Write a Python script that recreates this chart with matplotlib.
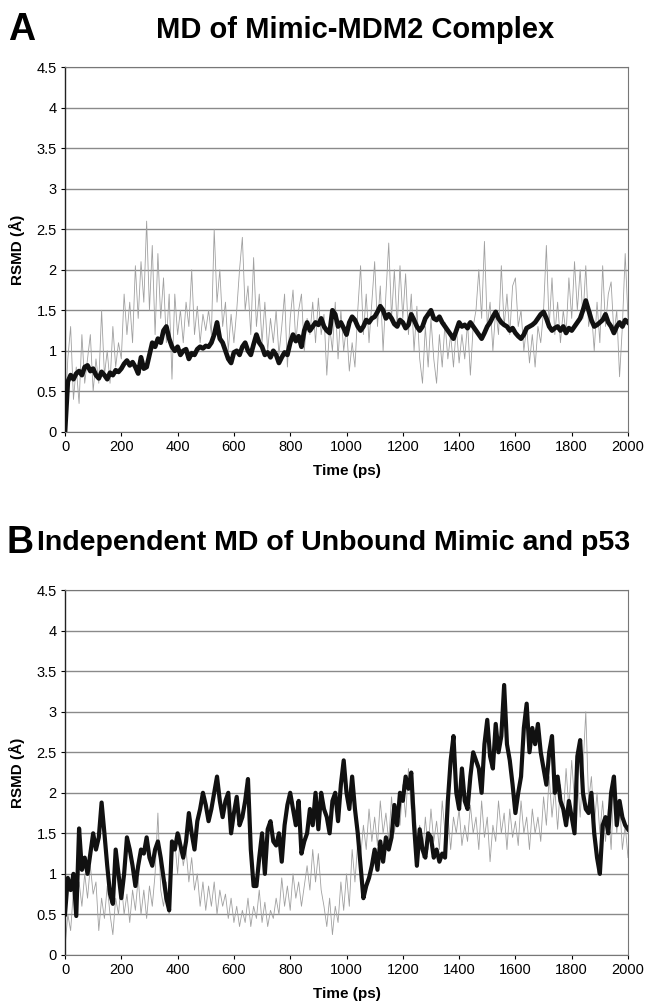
import numpy as np
import matplotlib
matplotlib.use("Agg")
import matplotlib.pyplot as plt

plt.rcParams['font.family'] = ['Liberation Sans', 'DejaVu Sans']

# time axis, 10 ps steps
time_ps = list(range(0, 2001, 10))

# Panel A: mimic-MDM2 complex
a_gray = [
    0.2, 0.9, 1.3, 0.4, 0.8, 0.35, 1.2, 0.6, 0.9, 1.2,
    0.5, 0.9, 0.6, 1.5, 0.7, 1.0, 0.6, 1.3, 0.8, 1.1,
    0.9, 1.7, 1.2, 1.6, 1.1, 2.05, 1.4, 2.1, 1.6, 2.6,
    1.5, 2.3, 1.2, 2.2, 1.4, 1.9, 1.1, 1.7, 0.65, 1.7,
    1.2, 1.5, 1.1, 1.6, 1.3, 2.0, 1.2, 1.55, 1.1, 1.45,
    1.25, 1.5, 1.2, 2.5, 1.6, 2.0, 1.3, 1.6, 1.0, 1.45,
    1.1, 1.5, 2.0, 2.4, 1.5, 1.8, 1.2, 2.15, 1.3, 1.7,
    1.1, 1.6, 1.0, 1.4, 1.1, 1.5, 0.95, 1.3, 1.7, 0.8,
    1.4, 1.75, 1.1, 1.5, 1.7, 1.0, 1.4, 1.2, 1.6, 1.1,
    1.65, 1.2, 1.45, 0.7, 1.3, 1.0, 1.6, 0.9, 1.5, 1.0,
    1.3, 0.75, 1.1, 0.8, 1.5, 2.05, 1.2, 1.7, 1.1, 1.6,
    2.1, 1.3, 1.8, 1.0, 1.7, 2.33, 1.4, 2.0, 1.3, 2.05,
    1.4, 1.95, 1.2, 1.7, 1.0, 1.55, 0.9, 0.6, 1.3, 0.8,
    1.4, 0.9, 0.6, 1.2, 0.8, 1.35, 0.9, 1.2, 0.8, 1.3,
    0.85, 1.2, 0.9, 1.35, 0.7, 1.3, 1.5, 2.0, 1.4, 2.35,
    1.3, 1.6, 1.0, 1.5, 1.2, 2.05, 1.3, 1.7, 1.2, 1.8,
    1.9, 1.3, 1.5, 1.0, 1.3, 0.85, 1.2, 0.8, 1.3, 1.1,
    1.5, 2.3, 1.3, 1.9, 1.2, 1.6, 1.1, 1.5, 1.2, 1.9,
    1.4, 2.1, 1.5, 2.0, 1.4, 2.05, 1.3, 1.5, 1.0, 1.6,
    1.1, 2.05, 1.3, 1.7, 1.85, 1.2, 1.5, 0.68, 1.3, 2.2,
    1.4,
]
a_black = [
    0.0, 0.62, 0.7, 0.65, 0.72, 0.75, 0.7, 0.8, 0.82, 0.75,
    0.78, 0.7, 0.66, 0.74, 0.7, 0.65, 0.73, 0.7, 0.76, 0.74,
    0.78, 0.84, 0.88, 0.82, 0.86, 0.8, 0.72, 0.92, 0.78, 0.8,
    0.95, 1.1, 1.05, 1.15, 1.1, 1.25, 1.3, 1.15, 1.05, 1.0,
    1.05, 0.95, 1.0, 1.02, 0.9, 0.97, 0.95, 1.02, 1.05, 1.03,
    1.06, 1.05, 1.1, 1.2, 1.35, 1.15, 1.1, 1.0, 0.9, 0.85,
    0.98, 1.0, 0.95, 1.05, 1.1, 1.0, 0.95, 1.08, 1.2, 1.1,
    1.05, 0.95, 0.98, 0.92, 1.0, 0.95, 0.85, 0.92, 0.98, 0.95,
    1.1, 1.2, 1.12, 1.18, 1.05, 1.25, 1.35, 1.25, 1.3, 1.35,
    1.32, 1.4, 1.3, 1.25, 1.22, 1.5, 1.45, 1.3, 1.35, 1.28,
    1.2, 1.35, 1.42, 1.38, 1.3, 1.25, 1.3, 1.38, 1.35, 1.4,
    1.42, 1.48, 1.55, 1.5, 1.4, 1.45, 1.4, 1.33, 1.3, 1.38,
    1.35, 1.28, 1.32, 1.45, 1.38, 1.3, 1.25, 1.3, 1.4, 1.45,
    1.5, 1.4, 1.38, 1.42, 1.35, 1.3, 1.25, 1.2, 1.15, 1.25,
    1.35, 1.3, 1.32, 1.28, 1.35, 1.3, 1.25, 1.2, 1.15, 1.22,
    1.3, 1.35, 1.42, 1.48, 1.4, 1.35, 1.32, 1.3, 1.25, 1.28,
    1.22, 1.18, 1.15, 1.2, 1.28, 1.3, 1.32, 1.35, 1.4, 1.45,
    1.48, 1.4, 1.3, 1.25, 1.28, 1.3, 1.25, 1.3, 1.22, 1.28,
    1.25, 1.3, 1.35, 1.4, 1.5, 1.62, 1.5, 1.38, 1.3, 1.32,
    1.35, 1.38, 1.45, 1.35, 1.3, 1.22, 1.3, 1.35, 1.3, 1.38,
    1.35,
]

# Panel B: unbound mimic and p53
b_gray = [
    0.1, 0.5, 0.3, 0.8, 0.5, 0.9, 0.6, 1.0, 0.7, 1.1,
    0.75, 0.9, 0.3, 0.7, 0.45, 0.85, 0.5, 0.25, 0.7, 0.5,
    0.9, 0.5, 0.75, 0.4, 0.8, 0.55, 0.95, 0.5, 0.8, 0.45,
    0.85, 0.6, 1.0, 1.75, 0.8, 0.6, 0.9, 0.5, 1.2, 1.4,
    1.0, 1.5, 1.1, 1.3, 0.9, 1.2, 0.8, 1.0, 0.6, 0.9,
    0.55, 0.85, 0.6, 0.9, 0.5, 0.8, 0.6, 0.75, 0.45, 0.7,
    0.4, 0.6, 0.35, 0.55, 0.4, 0.7, 0.35, 0.6, 0.45, 0.8,
    0.4, 0.65, 0.35, 0.55, 0.45, 0.7, 0.5, 0.95, 0.6, 0.85,
    0.55, 1.0, 0.7, 0.9, 0.6, 0.85, 1.1, 0.8, 1.3, 0.9,
    1.25, 0.8, 0.6, 0.35, 0.7, 0.25, 0.6, 0.4, 0.9, 0.55,
    1.0, 0.6, 1.3, 0.9, 1.4, 1.2, 1.6, 1.3, 1.8, 1.4,
    1.7, 1.35, 1.9, 1.5, 1.75, 1.4, 1.95, 1.5, 1.8, 1.6,
    2.1, 1.7, 2.3, 1.8, 2.0, 1.4, 1.6, 1.2, 1.7, 1.3,
    1.8, 1.4, 1.65, 1.3, 1.9, 1.5, 1.75, 1.3, 1.7, 1.5,
    1.8, 1.35, 1.6, 1.4, 1.85, 1.5, 1.7, 1.3, 1.9, 1.45,
    1.7, 1.15, 1.6, 1.4, 1.9, 1.5, 1.75, 1.3, 1.8, 1.45,
    1.65, 1.35, 1.9, 1.5, 1.7, 1.3, 1.8, 1.5, 1.7, 1.4,
    1.95, 1.6, 2.2, 1.7, 2.05, 1.55, 2.1, 1.7, 2.3, 1.8,
    2.4, 1.9, 2.2, 1.7, 2.3, 3.0, 1.9, 2.2, 1.6, 2.0,
    1.5, 1.9, 1.4, 1.8, 1.3, 2.1, 1.5, 1.9, 1.3, 1.6,
    1.2,
]
b_black = [
    0.5, 0.95, 0.8, 1.0, 0.48, 1.56, 1.05, 1.2, 1.0, 1.25,
    1.5, 1.3, 1.45, 1.88, 1.5, 1.1, 0.75, 0.63, 1.3, 1.0,
    0.7, 1.0, 1.45, 1.3, 1.1, 0.85, 1.1, 1.3, 1.25, 1.45,
    1.2, 1.1, 1.3, 1.4, 1.2, 0.95, 0.7, 0.55, 1.4, 1.3,
    1.5, 1.35, 1.2, 1.4, 1.75, 1.5, 1.3, 1.65, 1.8, 2.0,
    1.85, 1.65, 1.8, 2.0, 2.2, 1.9, 1.7, 1.9, 2.0, 1.5,
    1.75, 1.95, 1.6, 1.7, 1.9, 2.17, 1.3, 0.85, 0.85, 1.2,
    1.5, 1.0, 1.55, 1.65, 1.4, 1.35, 1.5, 1.15, 1.6, 1.85,
    2.0, 1.8, 1.6, 1.9, 1.25, 1.4, 1.5, 1.8, 1.6, 2.0,
    1.55, 2.0, 1.8, 1.7, 1.5, 1.9, 2.0, 1.65, 2.1, 2.4,
    2.0, 1.8, 2.2, 1.8, 1.5, 1.1, 0.7, 0.85, 0.95, 1.1,
    1.3, 1.05, 1.4, 1.15, 1.45, 1.3, 1.45, 1.85, 1.6, 2.0,
    1.9, 2.2, 2.05, 2.25, 1.6, 1.1, 1.55, 1.3, 1.2, 1.5,
    1.45, 1.2, 1.3, 1.15, 1.25, 1.2, 1.9, 2.4, 2.7, 2.0,
    1.8, 2.3, 1.9, 1.8, 2.2, 2.5, 2.4, 2.3, 2.0, 2.6,
    2.9, 2.45, 2.3, 2.85, 2.5, 2.7, 3.33, 2.6, 2.4, 2.1,
    1.75, 2.0, 2.2, 2.8, 3.1, 2.5, 2.8, 2.6, 2.85, 2.5,
    2.3, 2.1, 2.5, 2.7, 2.0, 2.2, 1.9, 1.8, 1.6, 1.9,
    1.7, 1.5, 2.45, 2.65, 2.0, 1.8, 1.75, 2.0, 1.5, 1.2,
    1.0, 1.6, 1.7, 1.5, 2.0, 2.2, 1.6, 1.9, 1.7, 1.6,
    1.55,
]

y_ticks = [0, 0.5, 1, 1.5, 2, 2.5, 3, 3.5, 4, 4.5]
y_tick_labels = ["0", "0.5", "1", "1.5", "2", "2.5", "3", "3.5", "4", "4.5"]
x_ticks = list(range(0, 2001, 200))


def style_axes(ax):
    ax.set_xlim(0, 2000)
    ax.set_ylim(0, 4.5)
    ax.set_yticks(y_ticks)
    ax.set_yticklabels(y_tick_labels)
    ax.set_xticks(x_ticks)
    ax.yaxis.grid(True, color="#8a8a8a", linewidth=1.0)
    ax.set_axisbelow(True)
    ax.tick_params(direction="out", length=3, width=0.8, labelsize=10.5, pad=3)
    for side in ("top", "right", "bottom"):
        ax.spines[side].set_color("#777777")
        ax.spines[side].set_linewidth(0.8)
    ax.spines["left"].set_color("#222222")
    ax.spines["left"].set_linewidth(1.0)
    ax.set_xlabel("Time (ps)", fontsize=11, fontweight="bold", labelpad=7)
    ax.set_ylabel("RSMD (Å)", fontsize=11, fontweight="bold", labelpad=8)


fig = plt.figure(figsize=(6.52, 10.02), dpi=100)

ax_a = fig.add_axes([0.0997, 0.569, 0.8635, 0.364])
ax_a.plot(time_ps, a_gray, color="#a0a0a0", linewidth=0.6, zorder=2)
ax_a.plot(time_ps, a_black, color="#111111", linewidth=3.4, zorder=3)
style_axes(ax_a)

ax_b = fig.add_axes([0.0997, 0.047, 0.8635, 0.364])
ax_b.plot(time_ps, b_gray, color="#a0a0a0", linewidth=0.6, zorder=2)
ax_b.plot(time_ps, b_black, color="#111111", linewidth=3.0, zorder=3)
style_axes(ax_b)

fig.text(0.013, 0.970, "A", fontsize=27, fontweight="bold", va="center", ha="left")
fig.text(0.545, 0.970, "MD of Mimic-MDM2 Complex", fontsize=21,
         fontweight="bold", va="center", ha="center")
fig.text(0.010, 0.458, "B", fontsize=27, fontweight="bold", va="center", ha="left")
fig.text(0.057, 0.458, "Independent MD of Unbound Mimic and p53", fontsize=20.5,
         fontweight="bold", va="center", ha="left")

fig.savefig("out.png", dpi=100)
